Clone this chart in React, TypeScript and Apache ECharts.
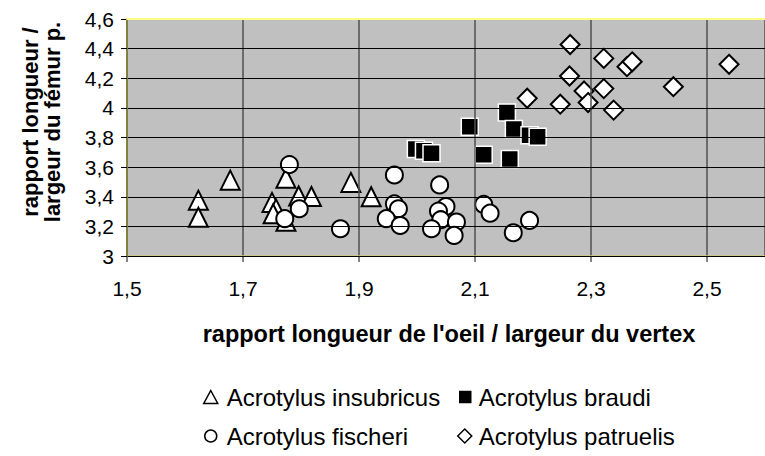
import React, { useEffect, useRef } from "react";
import * as echarts from "echarts";

const FONT = "Liberation Sans, Arial, sans-serif";

// Acrotylus insubricus (triangles)
const insubricusX = [1.623, 1.623, 1.678, 1.774, 1.750, 1.757, 1.752, 1.774, 1.796, 1.818, 1.886, 1.921];
const insubricusY = [3.377, 3.262, 3.512, 3.525, 3.362, 3.318, 3.285, 3.235, 3.405, 3.402, 3.497, 3.400];

// Acrotylus braudi (black squares)
const braudiX = [1.998, 2.012, 2.025, 2.091, 2.155, 2.167, 2.194, 2.208, 2.115, 2.160];
const braudiY = [3.722, 3.711, 3.693, 3.872, 3.968, 3.857, 3.816, 3.805, 3.684, 3.655];

// Acrotylus fischeri (circles)
const fischeriX = [1.780, 1.797, 1.772, 1.868, 1.961, 1.961, 1.968, 1.947, 1.971, 2.039, 2.050, 2.037, 2.041, 2.068, 2.025, 2.064, 2.115, 2.126, 2.166, 2.194];
const fischeriY = [3.617, 3.319, 3.252, 3.184, 3.547, 3.352, 3.319, 3.252, 3.206, 3.480, 3.334, 3.303, 3.245, 3.229, 3.184, 3.139, 3.348, 3.289, 3.157, 3.240];

// Acrotylus patruelis (diamonds)
const patruelisX = [2.264, 2.322, 2.362, 2.371, 2.538, 2.263, 2.288, 2.322, 2.442, 2.190, 2.247, 2.295, 2.339];
const patruelisY = [4.428, 4.334, 4.278, 4.311, 4.294, 4.215, 4.114, 4.130, 4.143, 4.065, 4.025, 4.036, 3.985];

const xTitle = "rapport longueur de l'oeil / largeur du vertex";
const yTitle = "rapport longueur /\nlargeur du fémur p.";

const zip = (xs: number[], ys: number[]) => xs.map((x, i) => [x, ys[i]]);
const fmt = (v: number) => String(Math.round(v * 10) / 10).replace(".", ",");

export default function App() {
  const ref = useRef<HTMLDivElement>(null);
  useEffect(() => {
    if (!ref.current) return;
    const chart = echarts.init(ref.current, null, { renderer: "svg" });
    const mkLegend = (name: string, icon: string, left: number, top: number, fill: string, w: number, h: number, textX: number) => ({
      data: [{ name, icon, itemStyle: { color: fill, borderColor: "#000", borderWidth: 1.5 } }],
      left, top, padding: 0, itemWidth: w, itemHeight: h, selectedMode: false,
      textStyle: { fontSize: 24, fontFamily: FONT, color: "#000", padding: [0, 0, 0, Math.max(0, textX - left - w - 5)] },
    });
    chart.setOption({
      animation: false,
      backgroundColor: "#fff",
      grid: { left: 127, right: -4, top: 19, bottom: 200, show: true, backgroundColor: "#C0C0C0", borderWidth: 0 },
      xAxis: [
        {
          type: "value", min: 1.5, max: 2.6, interval: 0.2,
          axisLine: { show: true, onZero: false, lineStyle: { color: "#c8c878", width: 1.5 } },
          axisTick: { show: true, length: 6, lineStyle: { color: "#595959", width: 1.5 } },
          axisLabel: { formatter: fmt, fontSize: 21, fontFamily: FONT, color: "#000", margin: 22, showMaxLabel: false },
          splitLine: { show: true, lineStyle: { color: "#505050", width: 1.5 } },
          name: xTitle, nameLocation: "middle", nameGap: 66,
          nameTextStyle: { fontSize: 23.5, fontWeight: "bold", fontFamily: FONT, color: "#000", padding: [0, 0, 0, 6] },
          z: 3,
        },
        {
          type: "value", min: 1.5, max: 2.6, position: "top",
          axisLine: { show: true, lineStyle: { color: "#ffff80", width: 2 } },
          axisTick: { show: false }, axisLabel: { show: false }, splitLine: { show: false },
          z: 5,
        },
      ],
      yAxis: {
        type: "value", min: 3, max: 4.6, interval: 0.2,
        axisLine: { show: true, onZero: false, lineStyle: { color: "#80803f", width: 2 } },
        axisTick: { show: true, length: 6, lineStyle: { color: "#000", width: 1 } },
        axisLabel: { formatter: fmt, fontSize: 21, fontFamily: FONT, color: "#000", margin: 13 },
        splitLine: { show: true, lineStyle: { color: "#000", width: 1 } },
        z: 4,
      },
      graphic: [
        {
          type: "text", x: 41, y: 122, rotation: Math.PI / 2,
          style: {
            text: yTitle, align: "center", verticalAlign: "middle", lineHeight: 22,
            font: "bold 22px " + FONT, fill: "#000",
          },
        },
      ],
      legend: [
        mkLegend("Acrotylus insubricus", "triangle", 203, 385, "#fff", 14, 13, 226),
        mkLegend("Acrotylus braudi", "rect", 459, 385, "#000", 11, 11, 478),
        mkLegend("Acrotylus fischeri", "circle", 204, 424, "#fff", 12, 12, 226),
        mkLegend("Acrotylus patruelis", "diamond", 457, 424, "#fff", 14, 14, 478),
      ],
      series: [
        {
          type: "scatter", name: "Acrotylus insubricus", data: zip(insubricusX, insubricusY),
          symbol: "triangle", symbolSize: 19,
          itemStyle: { color: "#fff", borderColor: "#000", borderWidth: 2, opacity: 1 },
        },
        {
          type: "scatter", name: "Acrotylus braudi", data: zip(braudiX, braudiY),
          symbol: "rect", symbolSize: 17,
          itemStyle: { color: "#000", borderColor: "#fff", borderWidth: 1.5, opacity: 1 },
        },
        {
          type: "scatter", name: "Acrotylus fischeri", data: zip(fischeriX, fischeriY),
          symbol: "circle", symbolSize: 17,
          itemStyle: { color: "#fff", borderColor: "#000", borderWidth: 2, opacity: 1 },
        },
        {
          type: "scatter", name: "Acrotylus patruelis", data: zip(patruelisX, patruelisY),
          symbol: "diamond", symbolSize: 19,
          itemStyle: { color: "#fff", borderColor: "#000", borderWidth: 2, opacity: 1 },
        },
      ],
    });
    return () => chart.dispose();
  }, []);
  return <div ref={ref} style={{ position: "absolute", left: 0, top: 0, width: 765, height: 456 }} />;
}
